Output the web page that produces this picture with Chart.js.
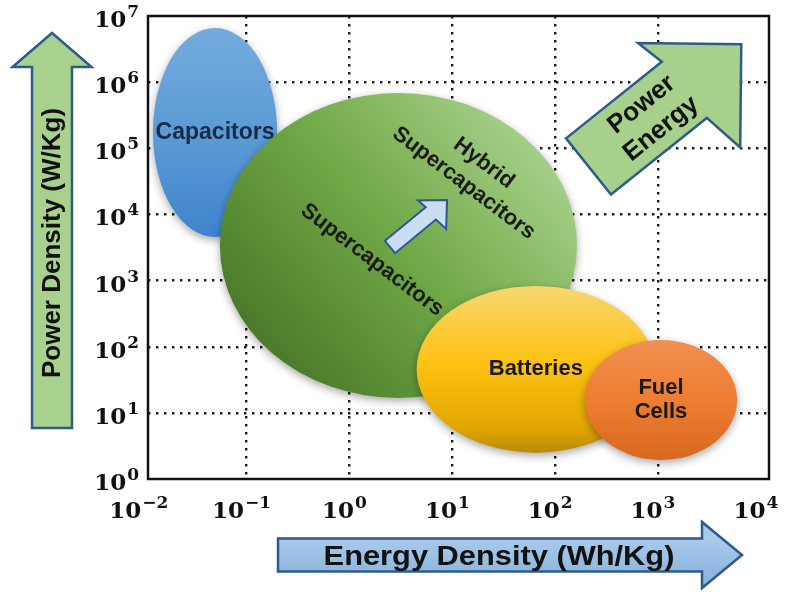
<!DOCTYPE html>
<html>
<head>
<meta charset="utf-8">
<script src="https://cdn.jsdelivr.net/npm/chart.js@4.4.1/dist/chart.umd.min.js"></script>
<style>
  html, body { margin: 0; padding: 0; background: #fff; }
  #chart-container { width: 794px; height: 600px; }
</style>
</head>
<body>
<div id="chart-container"><canvas id="chart"></canvas></div>
<script>
// Ragone plot: ranges (energy Wh/kg, power W/kg)
const technologies = ['Capacitors', 'Supercapacitors', 'Batteries', 'Fuel Cells']
const energyMin = [0.0123, 0.055, 4.5, 195]
const energyMax = [0.198, 163, 935, 5870]
const powerMin = [4560, 16.8, 2.5, 1.94]
const powerMax = [6.6e6, 6.86e5, 830, 126]

const xTickValues = [1e-2, 1e-1, 1e0, 1e1, 1e2, 1e3, 1e4]
const xTickExponents = ['\u22122', '\u22121', '0', '1', '2', '3', '4']
const yTickValues = [1e0, 1e1, 1e2, 1e3, 1e4, 1e5, 1e6, 1e7]
const yTickExponents = ['0', '1', '2', '3', '4', '5', '6', '7']
// dotted grid only on the inner decades
const xGridValues = [1e-1, 1e0, 1e1, 1e2, 1e3]
const yGridValues = [1e1, 1e2, 1e3, 1e4, 1e5, 1e6]

// annotations inside the plot, [energy, power]
const hybridLabelAt = [15.6, 43800]
const superLabelAt = [1.66, 2047]
const innerArrowFrom = [2.48, 3220]
const innerArrowTo = [8.89, 16500]
const trendArrowFrom = [211, 53100]
const trendArrowTo = [6450, 3.75e6]

const fills = [
    (ctx, cx, cy, rx, ry) => {
        const g = ctx.createLinearGradient(0, cy - ry, 0, cy + ry)
        g.addColorStop(0, '#74abde'); g.addColorStop(0.5, '#5b9bd5'); g.addColorStop(1, '#3f84cc')
        return g
    },
    (ctx, cx, cy, rx, ry) => {
        const g = ctx.createLinearGradient(cx - rx * 0.75, cy + ry * 0.75, cx + rx * 0.75, cy - ry * 0.75)
        g.addColorStop(0, '#497829'); g.addColorStop(0.5, '#6fa845'); g.addColorStop(1, '#a7d08b')
        return g
    },
    (ctx, cx, cy, rx, ry) => {
        const g = ctx.createLinearGradient(0, cy - ry, 0, cy + ry)
        g.addColorStop(0, '#f6d770'); g.addColorStop(0.45, '#ffc214'); g.addColorStop(0.85, '#e2a700'); g.addColorStop(1, '#b98a05')
        return g
    },
    (ctx, cx, cy, rx, ry) => {
        const g = ctx.createLinearGradient(0, cy - ry, 0, cy + ry)
        g.addColorStop(0, '#f28f52'); g.addColorStop(0.5, '#ed7d31'); g.addColorStop(1, '#d8681e')
        return g
    }
]

// block arrow; tilt turns the head a little against the shaft
const arrowPath = (ctx, x0, y0, x1, y1, shaft, head, headLen, tilt = 0) => {
    const len = Math.hypot(x1 - x0, y1 - y0)
    const c = Math.cos(tilt), s = Math.sin(tilt)
    const barb = (dx, dy) => [len + dx * c - dy * s, dx * s + dy * c]
    ctx.save()
    ctx.translate(x0, y0)
    ctx.rotate(Math.atan2(y1 - y0, x1 - x0))
    ctx.beginPath()
    ctx.moveTo(0, -shaft)
    ctx.lineTo(len - headLen, -shaft)
    ctx.lineTo(...barb(-headLen, -head))
    ctx.lineTo(len, 0)
    ctx.lineTo(...barb(-headLen, head))
    ctx.lineTo(len - headLen, shaft)
    ctx.lineTo(0, shaft)
    ctx.closePath()
    ctx.restore()
}

const powerLabel = (ctx, exp, x, y, align) => {
    ctx.font = 'bold 23px "DejaVu Serif"'
    const w1 = ctx.measureText('10').width
    ctx.font = 'bold 17px "DejaVu Serif"'
    const w2 = ctx.measureText(exp).width
    const total = w1 + 1 + w2
    let left = x
    if(align === 'right') left = x - total
    if(align === 'center') left = x - total / 2
    ctx.textAlign = 'left'
    ctx.textBaseline = 'alphabetic'
    ctx.font = 'bold 23px "DejaVu Serif"'
    ctx.fillText('10', left, y)
    ctx.font = 'bold 17px "DejaVu Serif"'
    ctx.fillText(exp, left + w1 + 1, y - 10)
}

const ragone = {
    id: 'ragone',
    beforeDatasetsDraw(chart) {
        const {ctx, scales: {x, y}} = chart
        const px = p => [x.getPixelForValue(p[0]), y.getPixelForValue(p[1])]
        const centers = []
        ctx.save()
        technologies.forEach((t, i) => {
            const x0 = x.getPixelForValue(energyMin[i]), x1 = x.getPixelForValue(energyMax[i])
            const y0 = y.getPixelForValue(powerMax[i]), y1 = y.getPixelForValue(powerMin[i])
            const cx = (x0 + x1) / 2, cy = (y0 + y1) / 2, rx = (x1 - x0) / 2, ry = (y1 - y0) / 2
            centers.push([cx, cy])
            ctx.save()
            ctx.shadowColor = 'rgba(0,0,0,0.35)'
            ctx.shadowBlur = 8
            ctx.shadowOffsetY = 3
            ctx.beginPath()
            ctx.ellipse(cx, cy, rx, ry, 0, 0, Math.PI * 2)
            ctx.fillStyle = fills[i](ctx, cx, cy, rx, ry)
            ctx.fill()
            ctx.restore()
        })

        ctx.textAlign = 'center'
        ctx.textBaseline = 'middle'
        ctx.fillStyle = '#1b2a47'
        ctx.font = 'bold 23px "Liberation Sans"'
        ctx.fillText('Capacitors', centers[0][0], centers[0][1])
        ctx.fillStyle = '#1a1a1a'
        ctx.font = 'bold 22px "Liberation Sans"'
        ctx.fillText('Batteries', centers[2][0], centers[2][1])
        ctx.fillText('Fuel', centers[3][0], centers[3][1] - 12)
        ctx.fillText('Cells', centers[3][0], centers[3][1] + 12)

        // labels rotated inside the supercapacitor area
        const rot = 37 * Math.PI / 180
        let [sx, sy] = px(superLabelAt)
        ctx.save()
        ctx.translate(sx, sy); ctx.rotate(rot)
        ctx.fillText('Supercapacitors', 0, 0)
        ctx.restore()
        ;[sx, sy] = px(hybridLabelAt)
        ctx.save()
        ctx.translate(sx, sy); ctx.rotate(rot)
        ctx.fillText('Hybrid', 4, -14)
        ctx.fillText('Supercapacitors', 0, 14)
        ctx.restore()

        // small arrow supercapacitors -> hybrid
        const [ax0, ay0] = px(innerArrowFrom), [ax1, ay1] = px(innerArrowTo)
        arrowPath(ctx, ax0, ay0, ax1, ay1, 8, 20, 21, -0.09)
        ctx.fillStyle = '#c9def2'
        ctx.fill()
        ctx.lineWidth = 2
        ctx.strokeStyle = '#2f5597'
        ctx.stroke()

        // Power / Energy trend arrow
        const [tx0, ty0] = px(trendArrowFrom), [tx1, ty1] = px(trendArrowTo)
        arrowPath(ctx, tx0, ty0, tx1, ty1, 36, 73, 73, -0.1)
        ctx.fillStyle = '#a8d08d'
        ctx.fill()
        ctx.lineWidth = 2.5
        ctx.strokeStyle = '#2e5a8c'
        ctx.stroke()
        const ang = Math.atan2(ty1 - ty0, tx1 - tx0)
        ctx.save()
        ctx.translate(tx0 + (tx1 - tx0) * 0.41, ty0 + (ty1 - ty0) * 0.41)
        ctx.rotate(ang)
        ctx.fillStyle = '#111'
        ctx.font = 'bold 26px "Liberation Sans"'
        ctx.fillText('Power', 0, -15)
        ctx.fillText('Energy', 0, 16)
        ctx.restore()
        ctx.restore()
    },
    afterDraw(chart) {
        const {ctx, chartArea: a, scales: {x, y}} = chart
        ctx.save()
        ctx.lineWidth = 2.5
        ctx.strokeStyle = '#111'
        ctx.strokeRect(a.left, a.top, a.right - a.left, a.bottom - a.top)

        ctx.fillStyle = '#111'
        yTickValues.forEach((v, i) => powerLabel(ctx, yTickExponents[i], a.left - 9, y.getPixelForValue(v) + 11, 'right'))
        xTickValues.forEach((v, i) => powerLabel(ctx, xTickExponents[i], x.getPixelForValue(v) - 5, a.bottom + 39, 'center'))

        // axis arrows with titles
        const lx = a.left - 96
        arrowPath(ctx, lx, a.bottom - 51, lx, a.top + 17, 20, 39.5, 34)
        ctx.fillStyle = '#a9d18e'
        ctx.fill()
        ctx.lineWidth = 2.5
        ctx.strokeStyle = '#2e5a8c'
        ctx.stroke()
        ctx.save()
        ctx.translate(lx + 1, 243)
        ctx.rotate(-Math.PI / 2)
        ctx.fillStyle = '#111'
        ctx.textAlign = 'center'
        ctx.textBaseline = 'middle'
        ctx.font = 'bold 26px "Liberation Sans"'
        ctx.fillText('Power Density (W/Kg)', 0, 0)
        ctx.restore()

        const by = a.bottom + 76
        arrowPath(ctx, 278, by, 742, by, 16.5, 33, 40)
        const g = ctx.createLinearGradient(0, by - 16, 0, by + 16)
        g.addColorStop(0, '#a9caea'); g.addColorStop(1, '#8fb8e0')
        ctx.fillStyle = g
        ctx.fill()
        ctx.stroke()
        ctx.save()
        ctx.translate(499, by + 2)
        ctx.scale(1.1, 1)
        ctx.fillStyle = '#111'
        ctx.textAlign = 'center'
        ctx.textBaseline = 'middle'
        ctx.font = 'bold 28px "Liberation Sans"'
        ctx.fillText('Energy Density (Wh/Kg)', 0, 0)
        ctx.restore()
        ctx.restore()
    }
}

const gridOpts = {color: '#1a1a1a', lineWidth: 2.4, drawTicks: false}
const borderOpts = {display: false, dash: [2.4, 5.6]}

const chart = new Chart(document.getElementById('chart').getContext('2d'), {
    type: 'scatter',
    data: {
        datasets: [{
            label: 'technologies',
            data: technologies.map((t, i) => ({
                x: Math.sqrt(energyMin[i] * energyMax[i]),
                y: Math.sqrt(powerMin[i] * powerMax[i])
            })),
            pointRadius: 0
        }]
    },
    options: {
        responsive: true,
        maintainAspectRatio: false,
        animation: false,
        layout: {padding: {left: 148, right: 25, top: 16, bottom: 121}},
        scales: {
            x: {
                type: 'logarithmic', min: 0.011, max: 12000,
                afterBuildTicks: s => { s.ticks = xGridValues.map(v => ({value: v})) },
                ticks: {display: false},
                grid: gridOpts,
                border: borderOpts
            },
            y: {
                type: 'logarithmic', min: 1, max: 1e7,
                afterBuildTicks: s => { s.ticks = yGridValues.map(v => ({value: v})) },
                ticks: {display: false},
                grid: gridOpts,
                border: borderOpts
            }
        },
        plugins: {
            legend: {display: false},
            tooltip: {enabled: false}
        }
    },
    plugins: [ragone]
})
</script>
</body>
</html>
